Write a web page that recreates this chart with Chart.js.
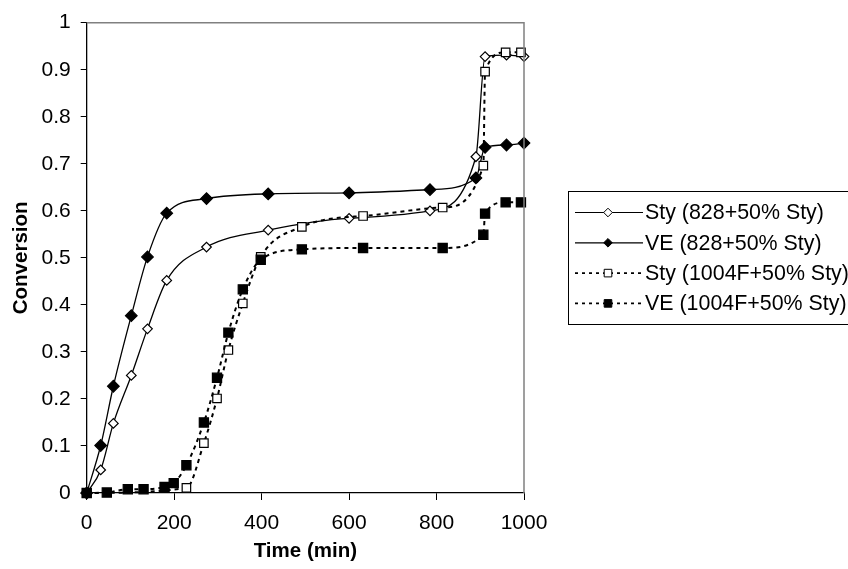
<!DOCTYPE html>
<html>
<head>
<meta charset="utf-8">
<script src="https://cdn.jsdelivr.net/npm/chart.js@4/dist/chart.umd.min.js"></script>
<style>
  html, body { margin: 0; padding: 0; background: #fff; }
  canvas { display: block; }
</style>
</head>
<body>
<canvas id="chart" width="848" height="569"></canvas>
<script>
const seriesNames = ["Sty (828+50% Sty)", "VE (828+50% Sty)", "Sty (1004F+50% Sty)", "VE (1004F+50% Sty)"]

const time828 = [0, 32, 61, 102, 139, 183, 274, 415, 600, 785, 890, 911, 960, 1000]
const sty828 = [0, 0.049, 0.148, 0.250, 0.349, 0.452, 0.523, 0.559, 0.584, 0.600, 0.715, 0.928, 0.931, 0.928]
const ve828 = [0, 0.101, 0.227, 0.377, 0.502, 0.595, 0.626, 0.636, 0.638, 0.645, 0.670, 0.735, 0.740, 0.744]

const timeSty1004 = [0, 228, 268, 298, 324, 357, 398, 492, 632, 814, 907, 911, 958, 993]
const sty1004 = [0, 0.011, 0.106, 0.201, 0.304, 0.403, 0.502, 0.566, 0.589, 0.607, 0.696, 0.896, 0.937, 0.937]

const timeVe1004 = [0, 46, 94, 130, 178, 199, 228, 268, 298, 324, 357, 398, 492, 632, 814, 907, 911, 958, 993]
const ve1004 = [0, 0.001, 0.008, 0.008, 0.013, 0.021, 0.059, 0.150, 0.245, 0.341, 0.433, 0.496, 0.518, 0.521, 0.521, 0.549, 0.594, 0.618, 0.618]

const xTicks = [0, 200, 400, 600, 800, 1000]
const yTicks = [0, 0.1, 0.2, 0.3, 0.4, 0.5, 0.6, 0.7, 0.8, 0.9, 1]

const FONT = "'Liberation Sans', Arial, sans-serif"

const points = (xs, ys) => xs.map((x, i) => ({ x, y: ys[i] }))

const styles = [
  { pointStyle: "rectRot", radius: 4.8, fill: "#fff", dash: [], width: 1.3 },
  { pointStyle: "rectRot", radius: 5.8, fill: "#000", dash: [], width: 1.3 },
  { pointStyle: "rect", radius: 6, fill: "#fff", dash: [4, 4], width: 2 },
  { pointStyle: "rect", radius: 6.5, fill: "#000", dash: [4, 4], width: 2 }
]

const seriesData = [
  points(time828, sty828),
  points(time828, ve828),
  points(timeSty1004, sty1004),
  points(timeVe1004, ve1004)
]

const datasets = seriesData.map((data, i) => ({
  label: seriesNames[i],
  data,
  order: 3 - i,
  showLine: true,
  clip: false,
  borderColor: "#000",
  borderWidth: styles[i].width,
  borderDash: styles[i].dash,
  cubicInterpolationMode: "monotone",
  pointStyle: styles[i].pointStyle,
  pointRadius: styles[i].radius,
  pointBackgroundColor: styles[i].fill,
  pointBorderColor: "#000",
  pointBorderWidth: 1.2
}))

const plotFrame = {
  id: "plotFrame",
  afterDraw(chart) {
    const { ctx, chartArea: a } = chart
    ctx.save()
    ctx.strokeStyle = "#808080"
    ctx.lineWidth = 1.5
    ctx.beginPath()
    ctx.moveTo(a.left, a.top)
    ctx.lineTo(a.right, a.top)
    ctx.lineTo(a.right, a.bottom)
    ctx.stroke()
    ctx.restore()
  }
}

function marker(ctx, style, x, y, r) {
  ctx.beginPath()
  if (style.pointStyle === "rectRot") {
    ctx.moveTo(x, y - r)
    ctx.lineTo(x + r, y)
    ctx.lineTo(x, y + r)
    ctx.lineTo(x - r, y)
  } else {
    ctx.rect(x - r, y - r, 2 * r, 2 * r)
  }
  ctx.closePath()
  ctx.fillStyle = style.fill
  ctx.fill()
  ctx.setLineDash([])
  ctx.lineWidth = 1
  ctx.strokeStyle = "#000"
  ctx.stroke()
}

const boxLegend = {
  id: "boxLegend",
  afterDraw(chart) {
    const ctx = chart.ctx
    const box = { left: 568, top: 191, right: 852, bottom: 324 }
    ctx.save()
    ctx.strokeStyle = "#000"
    ctx.lineWidth = 1
    ctx.strokeRect(box.left + 0.5, box.top + 0.5, box.right - box.left, box.bottom - box.top)
    ctx.font = `21.4px ${FONT}`
    ctx.textBaseline = "middle"
    ctx.fillStyle = "#000"
    seriesNames.forEach((name, i) => {
      const y = 212.5 + i * 30.3
      const s = styles[i]
      ctx.setLineDash(s.dash.length ? [3, 4] : [])
      ctx.lineWidth = s.dash.length ? 1.6 : 1.2
      ctx.beginPath()
      ctx.moveTo(575, y)
      ctx.lineTo(643, y)
      ctx.stroke()
      marker(ctx, s, 608, y, s.pointStyle === "rectRot" ? 4.3 : 3.8)
      ctx.fillStyle = "#000"
      ctx.fillText(name, 645, y + 1)
    })
    ctx.restore()
  }
}

new Chart(document.getElementById("chart"), {
  type: "scatter",
  data: { datasets },
  plugins: [plotFrame, boxLegend],
  options: {
    responsive: false,
    animation: false,
    devicePixelRatio: 1,
    layout: { padding: { top: 22.7, right: 324, left: 0, bottom: 0 } },
    plugins: { legend: { display: false }, tooltip: { enabled: false } },
    scales: {
      x: {
        type: "linear",
        min: 0,
        max: 1000,
        afterFit: scale => { scale.height = 76 },
        afterBuildTicks: scale => { scale.ticks = xTicks.map(value => ({ value })) },
        ticks: { color: "#000", padding: 11, font: { family: FONT, size: 21 }, callback: v => String(v) },
        grid: { drawOnChartArea: false, drawTicks: true, tickLength: 7, color: "#000", lineWidth: 1 },
        border: { color: "#000", width: 1.3 },
        title: {
          display: true,
          text: "Time (min)",
          color: "#000",
          font: { family: FONT, size: 20.5, weight: "bold", lineHeight: 1.2 },
          padding: { top: 0, bottom: 5 }
        }
      },
      y: {
        min: 0,
        max: 1,
        afterFit: scale => { scale.width = 86.7 },
        afterBuildTicks: scale => { scale.ticks = yTicks.map(value => ({ value })) },
        ticks: { color: "#000", padding: 10, font: { family: FONT, size: 21 }, callback: v => String(Math.round(v * 10) / 10) },
        grid: { drawOnChartArea: false, drawTicks: true, tickLength: 6, color: "#000", lineWidth: 1 },
        border: { color: "#000", width: 1.3 },
        title: {
          display: true,
          text: "Conversion",
          color: "#000",
          font: { family: FONT, size: 20.5, weight: "bold", lineHeight: 1.2 },
          padding: { top: 9, bottom: 0 }
        }
      }
    }
  }
})
</script>
</body>
</html>
